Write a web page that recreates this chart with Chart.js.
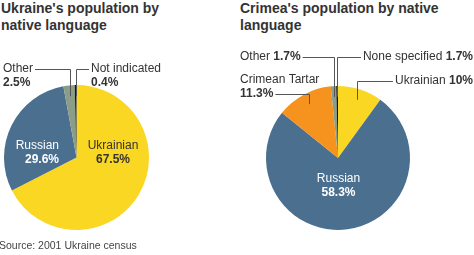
<!DOCTYPE html>
<html>
<head>
<meta charset="utf-8">
<script src="https://cdn.jsdelivr.net/npm/chart.js@4"></script>
<style>
  body { margin: 0; background: #fff; width: 474px; height: 255px; overflow: hidden; position: relative;
         font-family: "Liberation Sans", Arial, sans-serif; }
  .title { position: absolute; top: 0; font-size: 14px; font-weight: bold; line-height: 16.5px; color: #333; white-space: nowrap; }
  canvas { position: absolute; top: 0; }
  .source { position: absolute; left: -1px; top: 239px; font-size: 10.5px; color: #444; white-space: nowrap; }
</style>
</head>
<body>
<div class="title" style="left:1px">Ukraine's population by<br>native language</div>
<div class="title" style="left:240px">Crimea's population by native<br>language</div>
<canvas id="ukraine" width="237" height="255" style="left:0"></canvas>
<canvas id="crimea" width="237" height="255" style="left:237px"></canvas>
<div class="source">Source: 2001 Ukraine census</div>
<script>
const ukraineLanguages = ["Ukrainian", "Russian", "Other", "Not indicated"];
const ukraineShares = [67.5, 29.6, 2.5, 0.4];
const ukraineLabels = ["67.5%", "29.6%", "2.5%", "0.4%"];

const crimeaLanguages = ["Ukrainian", "Russian", "Crimean Tartar", "Other", "None specified"];
// slice sizes as they are drawn in the graphic (the printed Russian figure is 58.3%)
const crimeaShares = [10, 75.8, 12.6, 1.2, 0.4];
const crimeaLabels = ["10%", "58.3%", "11.3%", "1.7%", "1.7%"];

const colours = {
  "Ukrainian": "#f9d723",
  "Russian": "#4a6f8f",
  "Other": "#8a9e87",
  "Crimean Tartar": "#f6921e",
  "Not indicated": "#151515",
  "None specified": "#151515"
};

const FONT = '"Liberation Sans", Arial, sans-serif';

// label placement per slice: inside = offset from pie centre, outside = text block + leader line
const ukrainePlacement = [
  { kind: "inside", dx: 36.5, dy: -11.5, align: "center", color: "#333" },
  { kind: "inside", dx: -17.5, dy: -11.5, align: "right", color: "#fff" },
  { kind: "outside", x: 3, y: 69, align: "left", stacked: true, hook: 0 },
  { kind: "outside", x: 91, y: 69, align: "left", stacked: true, hook: 0 }
];
const crimeaPlacement = [
  { kind: "outside", x: 236, y: 81, align: "right", stacked: false, hook: 0 },
  { kind: "inside", dx: 0.5, dy: 21, align: "center", color: "#fff" },
  { kind: "outside", x: 3, y: 80, align: "left", stacked: true, hook: 1 },
  { kind: "outside", x: 3, y: 57, align: "left", stacked: false, hook: 0 },
  { kind: "outside", x: 236, y: 57, align: "right", stacked: false, hook: 0 }
];

function segFont(seg) {
  return (seg.bold ? "bold " : "") + "12px " + FONT;
}

function rowWidth(ctx, row) {
  let w = 0;
  row.forEach(seg => { ctx.font = segFont(seg); w += ctx.measureText(seg.t).width; });
  return w;
}

// draws one row of text segments, returns its horizontal extent
function drawRow(ctx, row, x, y, align, color) {
  const w = rowWidth(ctx, row);
  let left = align === "left" ? x : align === "right" ? x - w : x - w / 2;
  let cx = left;
  ctx.fillStyle = color;
  ctx.textBaseline = "middle";
  ctx.textAlign = "left";
  row.forEach(seg => {
    ctx.font = segFont(seg);
    ctx.fillText(seg.t, cx, y);
    cx += ctx.measureText(seg.t).width;
  });
  return { left: left, right: left + w };
}

const sliceLabels = {
  id: "sliceLabels",
  afterDatasetsDraw(chart, args, opts) {
    const ctx = chart.ctx;
    const arcs = chart.getDatasetMeta(0).data;
    const rowGap = 13.5;
    ctx.save();
    opts.placement.forEach((p, i) => {
      const arc = arcs[i];
      const name = opts.names[i];
      const pct = opts.texts[i];
      if (p.kind === "inside") {
        drawRow(ctx, [{ t: name }], arc.x + p.dx, arc.y + p.dy, p.align, p.color);
        drawRow(ctx, [{ t: pct, bold: true }], arc.x + p.dx, arc.y + p.dy + 14, p.align, p.color);
        return;
      }
      const rows = p.stacked
        ? [[{ t: name }], [{ t: pct, bold: true }]]
        : [[{ t: name + " " }, { t: pct, bold: true }]];
      const extents = rows.map((row, r) => drawRow(ctx, row, p.x, p.y + r * rowGap, p.align, "#333"));
      // leader: from inside the slice straight up, then across to the text
      const mid = (arc.startAngle + arc.endAngle) / 2;
      const r = arc.outerRadius * 0.85;
      const ax = Math.round(arc.x + Math.cos(mid) * r) + 0.5;
      const ay = arc.y + Math.sin(mid) * r;
      const hy = Math.round(p.y + p.hook * rowGap) + 0.5;
      const ext = extents[p.hook];
      const tx = ext.left > ax ? ext.left - 2 : ext.right + 2;
      ctx.strokeStyle = "#555";
      ctx.lineWidth = 1;
      ctx.beginPath();
      ctx.moveTo(ax, ay);
      ctx.lineTo(ax, hy);
      ctx.lineTo(tx, hy);
      ctx.stroke();
    });
    ctx.restore();
  }
};

function makePie(id, names, shares, texts, placement, padding) {
  return new Chart(document.getElementById(id), {
    type: "pie",
    data: {
      labels: names,
      datasets: [{
        data: shares,
        backgroundColor: names.map(n => colours[n]),
        borderWidth: 0
      }]
    },
    options: {
      responsive: false,
      animation: false,
      devicePixelRatio: 1,
      layout: { padding: padding },
      plugins: {
        legend: { display: false },
        tooltip: { enabled: false },
        sliceLabels: { names: names, texts: texts, placement: placement }
      }
    },
    plugins: [sliceLabels]
  });
}

makePie("ukraine", ukraineLanguages, ukraineShares, ukraineLabels, ukrainePlacement,
  { left: 4, right: 88, top: 85, bottom: 25 });
makePie("crimea", crimeaLanguages, crimeaShares, crimeaLabels, crimeaPlacement,
  { left: 29, right: 64, top: 86, bottom: 25 });
</script>
</body>
</html>
